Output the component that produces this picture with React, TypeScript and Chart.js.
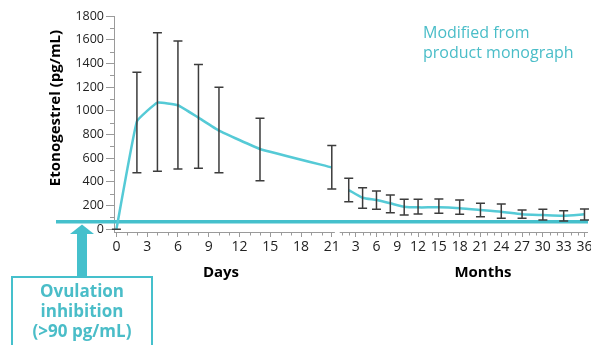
import React, { useEffect, useRef } from 'react';
import { Chart, registerables } from 'chart.js';

Chart.register(...registerables);

// ---- Data ----
const dayPoints = [0, 2, 4, 6, 8, 10, 14, 21];
const dayMeans = [0, 911, 1069, 1047, 942, 833, 678, 522];
const dayLow = [0, 478, 489, 509, 514, 478, 410, 340];
const dayHigh = [0, 1326, 1658, 1588, 1391, 1199, 937, 708];

const monthPoints = [2, 4, 6, 8, 10, 12, 15, 18, 21, 24, 27, 30, 33, 36];
const monthMeans = [331, 266, 247, 219, 191, 185, 185, 177, 163, 148, 126, 120, 115, 126];
const monthLow = [233, 177, 168, 140, 120, 129, 135, 126, 106, 93, 93, 78, 70, 78];
const monthHigh = [430, 351, 323, 289, 253, 253, 255, 247, 219, 213, 163, 168, 157, 171];

const dayTickLabels = [0, 3, 6, 9, 12, 15, 18, 21];
const monthTickLabels = [3, 6, 9, 12, 15, 18, 21, 24, 27, 30, 33, 36];
const yTickLabels = [0, 200, 400, 600, 800, 1000, 1200, 1400, 1600, 1800];
const yMinorTicks = [100, 300, 500, 700, 900, 1100, 1300, 1500, 1700];
const ovulationThreshold = 64;

// broken x axis: days on one stretch, months on a compressed second stretch
const MONTH_ORIGIN = 21.3;
const MONTH_SCALE = 0.676;
const monthToX = (m: number) => MONTH_ORIGIN + m * MONTH_SCALE;

const TEAL = '#45C0CC';
const LINE_TEAL = '#55CAD6';
const TEXT_TEAL = '#4ABDC8';
const AXIS_GRAY = '#9a9a9a';
const FONT = "'Open Sans', sans-serif";

const overlay = {
  id: 'overlay',
  beforeDatasetsDraw(chart: any) {
    const ctx = chart.ctx;
    const y = chart.scales.y.getPixelForValue(ovulationThreshold);
    ctx.save();
    ctx.strokeStyle = TEAL;
    ctx.lineWidth = 3.5;
    ctx.beginPath();
    ctx.moveTo(56, y);
    ctx.lineTo(chart.chartArea.right, y);
    ctx.stroke();
    ctx.restore();
  },
  afterDatasetsDraw(chart: any) {
    const ctx = chart.ctx;
    const xs = chart.scales.x;
    const ys = chart.scales.y;
    ctx.save();
    ctx.strokeStyle = '#3c3c3c';
    ctx.lineWidth = 1.5;
    const bar = (xv: number, lo: number, hi: number) => {
      const x = xs.getPixelForValue(xv);
      const y1 = ys.getPixelForValue(lo);
      const y2 = ys.getPixelForValue(hi);
      ctx.beginPath();
      ctx.moveTo(x, y1);
      ctx.lineTo(x, y2);
      ctx.moveTo(x - 4.5, y1);
      ctx.lineTo(x + 4.5, y1);
      ctx.moveTo(x - 4.5, y2);
      ctx.lineTo(x + 4.5, y2);
      ctx.stroke();
    };
    dayPoints.forEach((d, i) => bar(d, dayLow[i], dayHigh[i]));
    monthPoints.forEach((m, i) => bar(monthToX(m), monthLow[i], monthHigh[i]));
    ctx.restore();
  },
  afterDraw(chart: any) {
    const ctx = chart.ctx;
    const xs = chart.scales.x;
    const ys = chart.scales.y;
    const area = chart.chartArea;
    ctx.save();
    // broken x-axis lines
    const yb = area.bottom + 0.5;
    ctx.strokeStyle = AXIS_GRAY;
    ctx.lineWidth = 1;
    ctx.beginPath();
    ctx.moveTo(area.left, yb);
    ctx.lineTo(xs.getPixelForValue(21.3), yb);
    ctx.moveTo(xs.getPixelForValue(monthToX(0.7)), yb);
    ctx.lineTo(area.right, yb);
    ctx.stroke();
    // minor ticks
    ctx.beginPath();
    for (let d = 1; d <= 20; d++) {
      if (d % 3 === 0) continue;
      const x = Math.round(xs.getPixelForValue(d)) + 0.5;
      ctx.moveTo(x, yb);
      ctx.lineTo(x, yb + 3);
    }
    for (let m = 1; m <= 36; m++) {
      if (m % 3 === 0) continue;
      const x = Math.round(xs.getPixelForValue(monthToX(m))) + 0.5;
      ctx.moveTo(x, yb);
      ctx.lineTo(x, yb + 3);
    }
    yMinorTicks.forEach((v) => {
      const y = Math.round(ys.getPixelForValue(v)) + 0.5;
      ctx.moveTo(area.left - 4, y);
      ctx.lineTo(area.left, y);
    });
    ctx.stroke();

    // arrow
    ctx.fillStyle = TEAL;
    const ax = 82;
    ctx.fillRect(ax - 5, 233, 10, 44);
    ctx.beginPath();
    ctx.moveTo(ax, 224.5);
    ctx.lineTo(ax - 12, 234);
    ctx.lineTo(ax + 12, 234);
    ctx.closePath();
    ctx.fill();

    // box
    ctx.strokeStyle = TEAL;
    ctx.lineWidth = 2;
    ctx.strokeRect(12, 277, 140, 90);
    ctx.fillStyle = TEXT_TEAL;
    ctx.font = `bold 17px ${FONT}`;
    ctx.textAlign = 'center';
    ctx.textBaseline = 'middle';
    ctx.fillText('Ovulation', 82, 292);
    ctx.fillText('inhibition', 82, 312);
    ctx.fillText('(>90 pg/mL)', 82, 332);

    // note
    ctx.font = `16px ${FONT}`;
    ctx.textAlign = 'left';
    ctx.fillText('Modified from', 423, 33);
    ctx.fillText('product monograph', 423, 53);

    // axis titles
    ctx.fillStyle = '#000';
    ctx.font = `bold 15px ${FONT}`;
    ctx.textAlign = 'center';
    ctx.fillText('Days', 221, 273);
    ctx.fillText('Months', 483, 273);
    ctx.translate(56, 108);
    ctx.rotate(-Math.PI / 2);
    ctx.fillText('Etonogestrel (pg/mL)', 0, 0);
    ctx.restore();
  },
};

export default function App() {
  const ref = useRef<HTMLCanvasElement | null>(null);
  useEffect(() => {
    let chart: Chart | null = null;
    let cancelled = false;
    const make = () => {
      if (cancelled || !ref.current) return;
      chart = new Chart(ref.current, {
        type: 'line',
        data: {
          datasets: [
            {
              data: dayPoints.map((d, i) => ({ x: d, y: dayMeans[i] })),
              borderColor: LINE_TEAL,
              borderWidth: 2.5,
              pointRadius: 0,
              tension: 0.1,
            },
            {
              data: monthPoints.map((m, i) => ({ x: monthToX(m), y: monthMeans[i] })),
              borderColor: LINE_TEAL,
              borderWidth: 2.5,
              pointRadius: 0,
              tension: 0.2,
            },
          ],
        },
        options: {
          responsive: false,
          animation: false,
          devicePixelRatio: 1,
          layout: { padding: { top: 16, right: 3, left: 0, bottom: 0 } },
          plugins: { legend: { display: false }, tooltip: { enabled: false } },
          scales: {
            x: {
              type: 'linear',
              min: -0.234,
              max: 45.98,
              border: { display: false },
              grid: { drawOnChartArea: false, drawTicks: true, tickLength: 5, tickColor: AXIS_GRAY },
              afterBuildTicks: (s: any) => {
                s.ticks = [
                  ...dayTickLabels.map((d) => ({ value: d })),
                  ...monthTickLabels.map((m) => ({ value: monthToX(m) })),
                ];
              },
              afterFit: (s: any) => {
                s.height = 113;
                s.paddingLeft = 0;
                s.paddingRight = 0;
              },
              ticks: {
                autoSkip: false,
                maxRotation: 0,
                padding: 2,
                color: '#222',
                font: { family: FONT, size: 14 },
                callback: (_v: any, i: number) =>
                  i < dayTickLabels.length
                    ? String(dayTickLabels[i])
                    : String(monthTickLabels[i - dayTickLabels.length]),
              },
            },
            y: {
              type: 'linear',
              min: -23,
              max: 1800,
              border: { display: true, color: AXIS_GRAY },
              grid: { drawOnChartArea: false, drawTicks: true, tickLength: 8, tickColor: AXIS_GRAY },
              afterBuildTicks: (s: any) => {
                s.ticks = yTickLabels.map((v) => ({ value: v }));
              },
              afterFit: (s: any) => {
                s.width = 114;
                s.paddingTop = 0;
                s.paddingBottom = 0;
              },
              ticks: {
                padding: 2,
                color: '#222',
                font: { family: FONT, size: 12.5 },
                callback: (v: any) => String(v),
              },
            },
          },
        },
        plugins: [overlay],
      } as any);
    };
    const fonts = (document as any).fonts;
    if (fonts && fonts.load) {
      Promise.all([
        fonts.load(`12px 'Open Sans'`),
        fonts.load(`bold 15px 'Open Sans'`),
      ]).then(make, make);
    } else {
      make();
    }
    return () => {
      cancelled = true;
      if (chart) chart.destroy();
    };
  }, []);
  return (
    <div style={{ position: 'fixed', left: 0, top: 0, width: 591, height: 345, background: '#fff' }}>
      <canvas ref={ref} width={591} height={345} />
    </div>
  );
}
